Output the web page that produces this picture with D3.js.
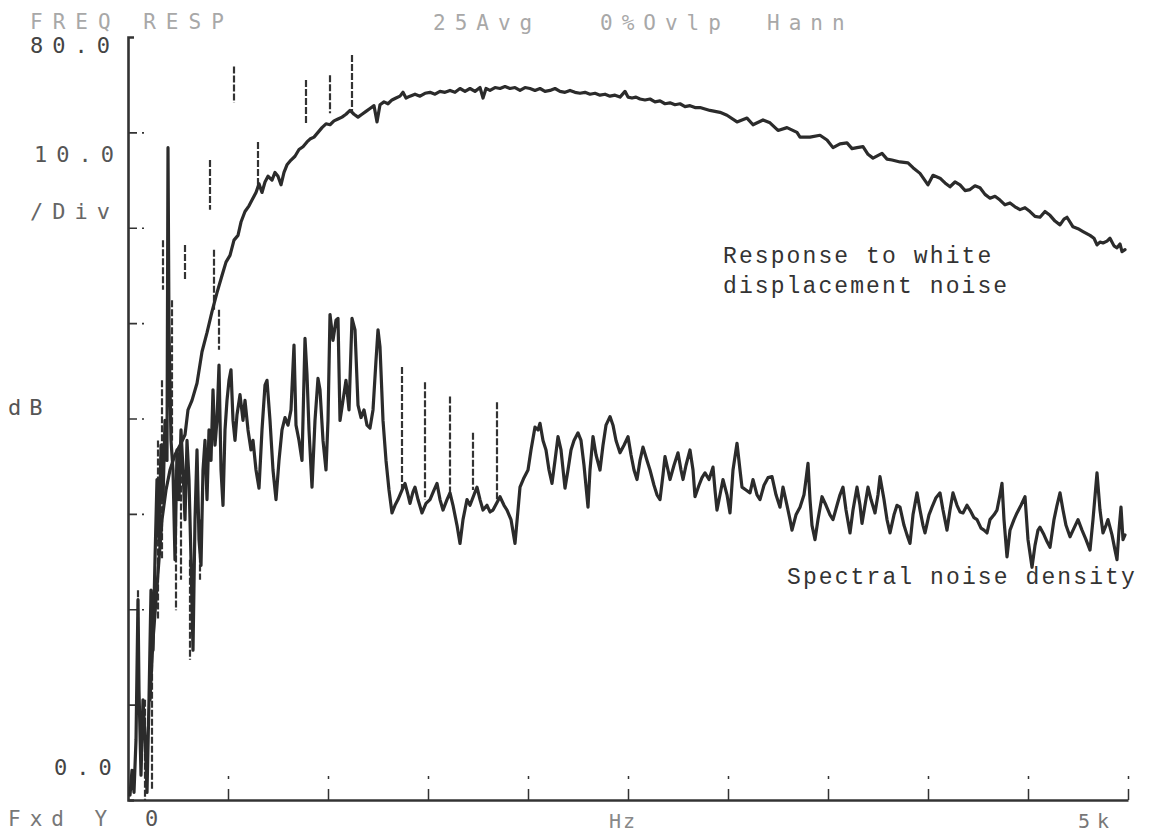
<!DOCTYPE html>
<html>
<head>
<meta charset="utf-8">
<script src="https://cdn.jsdelivr.net/npm/d3@7"></script>
<style>
  body { margin: 0; background: #fff; }
  svg { display: block; }
  .lcd { font-family: "DejaVu Sans Mono", monospace; }
  .note { font-family: "Liberation Mono", monospace; font-size: 23px; letter-spacing: 2.1px; fill: #333; }
  .trace { fill: none; stroke: #2b2b2b; stroke-linejoin: round; stroke-linecap: round; }
  .spike { stroke: #333; stroke-width: 2.2; stroke-dasharray: 7,2; }
  .axis path, .axis line { stroke: #333; }
</style>
</head>
<body>
<svg></svg>
<script>
// analyzer header / readouts
const headerLabels = ["FREQ RESP", "25Avg", "0%Ovlp", "Hann"]
const yTopLabel = "80.0"
const yScaleLabel = ["10.0", "/Div"]
const yUnit = "dB"
const yBottomLabel = "0.0"
const xStartLabel = "0"
const xUnit = "Hz"
const xEndLabel = "5k"
const xTickHz = [500, 1000, 1500, 2000, 2500, 3000, 3500, 4000, 4500, 5000]
const yTickDb = [10, 20, 30, 40, 50, 60, 70]

// [Hz, dB]
const responseTrace = [
  [110,10.5],[125,16.8],[140,21.0],[155,25.2],[170,29.4],[190,32.5],[210,34.6],[235,36.2],[260,37.2],[285,38.3],
  [300,40.9],[320,41.9],[345,43.7],[370,47.0],[395,49.0],[420,51.2],[445,53.2],[470,55.0],[490,56.4],[510,57.1],
  [530,58.7],[550,59.2],[565,60.6],[585,61.7],[605,62.3],[620,62.9],[640,63.7],[655,64.6],[670,63.7],[685,64.8],
  [700,65.4],[720,65.0],[735,65.8],[750,65.4],[765,64.5],[780,65.8],[795,66.6],[815,67.1],[835,67.5],[855,68.2],
  [875,68.5],[895,69.0],[910,69.3],[930,69.5],[950,70.0],[970,70.5],[990,70.9],[1010,70.8],[1030,71.2],[1050,71.4],
  [1070,71.6],[1090,71.9],[1110,72.3],[1130,71.9],[1150,71.6],[1170,71.9],[1190,72.2],[1210,72.5],[1230,72.8],[1245,71.1],
  [1260,72.9],[1280,73.2],[1300,73.0],[1320,73.4],[1340,73.6],[1360,73.8],[1375,74.2],[1390,73.6],[1410,73.8],[1435,74.0],
  [1460,73.8],[1485,74.1],[1510,74.2],[1535,74.0],[1560,74.3],[1585,74.2],[1610,74.4],[1635,74.2],[1660,74.6],[1685,74.3],
  [1710,74.6],[1735,74.3],[1760,74.7],[1775,73.6],[1790,74.6],[1810,74.4],[1835,74.7],[1860,74.6],[1885,74.8],[1910,74.6],
  [1935,74.7],[1960,74.4],[1985,74.7],[2010,74.6],[2035,74.4],[2060,74.6],[2085,74.3],[2110,74.4],[2135,74.6],[2160,74.3],
  [2185,74.2],[2210,74.4],[2235,74.2],[2260,74.1],[2285,74.2],[2310,74.0],[2335,74.1],[2360,73.9],[2385,74.0],[2410,73.8],
  [2435,73.9],[2460,73.7],[2485,74.3],[2500,73.7],[2520,73.6],[2540,73.7],[2560,73.5],[2585,73.4],[2610,73.5],[2635,73.2],
  [2660,73.3],[2685,73.0],[2710,73.1],[2735,72.9],[2760,73.0],[2785,72.7],[2810,72.8],[2835,72.6],[2860,72.6],[2910,72.3],
  [2960,72.1],[2995,71.8],[3045,71.1],[3095,71.5],[3125,70.8],[3175,71.3],[3210,71.0],[3250,70.2],[3295,70.5],[3345,70.0],
  [3360,69.5],[3410,69.5],[3460,69.7],[3495,69.2],[3525,68.4],[3560,68.8],[3595,68.9],[3620,68.3],[3645,68.4],[3675,68.5],
  [3700,67.7],[3725,67.3],[3770,67.8],[3795,67.2],[3820,67.1],[3860,66.9],[3900,66.8],[3925,66.3],[3960,65.7],[4000,64.5],
  [4025,65.5],[4060,65.2],[4085,64.7],[4110,64.3],[4135,64.8],[4160,64.5],[4185,63.9],[4210,64.0],[4235,64.4],[4260,64.2],
  [4285,63.5],[4310,63.1],[4335,63.3],[4360,62.9],[4385,62.4],[4410,62.6],[4435,62.2],[4460,61.9],[4485,62.1],[4510,61.7],
  [4535,61.2],[4560,61.1],[4585,61.7],[4610,61.3],[4635,60.7],[4660,60.3],[4680,60.9],[4695,61.1],[4725,60.1],[4750,59.9],
  [4775,59.6],[4810,59.2],[4830,58.9],[4845,58.2],[4860,58.5],[4875,58.4],[4895,58.6],[4910,58.9],[4930,58.1],[4945,57.9],
  [4960,58.3],[4970,57.5],[4985,57.7]
]

const noiseTrace = [
  [10,0.5],[20,3.1],[30,0.8],[40,6.3],[50,21.0],[55,11.5],[65,2.6],[75,10.5],[85,6.8],[95,0.8],
  [105,10.5],[115,22.0],[125,15.7],[135,25.2],[145,33.6],[155,27.3],[165,37.2],[175,31.5],[185,39.8],[195,35.6],
  [200,68.4],[205,49.3],[215,37.7],[225,34.6],[235,25.2],[245,36.7],[255,31.5],[265,38.8],[275,34.6],[285,29.4],
  [295,37.7],[305,33.6],[315,25.2],[325,15.7],[335,29.4],[345,36.7],[355,27.3],[365,24.6],[375,34.6],[385,37.7],
  [395,31.5],[405,38.8],[415,35.6],[425,43.0],[435,37.2],[445,39.8],[455,45.6],[465,34.6],[475,30.9],[485,38.8],
  [495,41.9],[505,44.0],[515,45.1],[525,39.8],[535,37.7],[545,40.4],[560,42.5],[575,39.8],[585,41.9],[600,38.8],
  [615,36.7],[625,37.7],[640,34.6],[655,32.7],[670,38.8],[685,43.5],[695,44.0],[710,39.8],[725,34.6],[740,31.5],
  [755,35.6],[770,38.8],[785,40.1],[800,39.3],[815,40.9],[830,47.7],[840,39.3],[855,37.7],[870,35.6],[885,48.4],
  [895,44.6],[905,38.8],[920,32.8],[935,39.8],[950,44.2],[960,43.0],[975,37.7],[990,34.6],[1000,39.8],[1010,50.9],
  [1025,48.2],[1040,50.3],[1050,50.5],[1060,39.8],[1075,41.9],[1090,44.0],[1105,40.9],[1120,50.5],[1135,49.3],[1150,41.4],
  [1165,40.1],[1180,40.9],[1195,39.3],[1210,39.0],[1225,40.9],[1240,46.1],[1250,49.3],[1260,47.5],[1275,39.8],[1290,35.6],
  [1305,32.5],[1320,30.1],[1335,30.9],[1350,31.5],[1370,32.5],[1385,33.2],[1400,32.0],[1410,31.1],[1425,32.3],[1435,32.8],
  [1450,31.5],[1470,30.1],[1490,31.1],[1510,31.5],[1530,32.5],[1545,33.2],[1560,31.5],[1575,30.4],[1595,31.5],[1610,32.2],
  [1625,30.9],[1645,28.8],[1660,26.9],[1675,29.4],[1695,31.5],[1710,30.9],[1730,32.0],[1745,32.8],[1760,31.5],[1775,30.4],
  [1795,30.9],[1810,30.2],[1825,30.4],[1845,31.2],[1860,31.8],[1880,30.9],[1895,30.4],[1915,29.4],[1935,26.9],[1950,30.4],
  [1960,32.8],[1980,33.8],[2000,34.6],[2015,36.7],[2035,39.1],[2050,38.8],[2060,39.5],[2075,37.7],[2090,36.7],[2105,34.6],
  [2120,33.2],[2135,35.6],[2150,38.1],[2165,36.7],[2185,32.7],[2200,34.6],[2215,36.7],[2230,37.7],[2250,38.5],[2265,37.7],
  [2280,35.1],[2300,30.7],[2310,34.6],[2325,38.1],[2340,36.2],[2360,34.6],[2375,37.2],[2390,39.3],[2410,40.2],[2425,39.3],
  [2440,37.7],[2460,36.4],[2480,37.2],[2500,38.1],[2515,36.2],[2530,34.6],[2545,33.6],[2560,35.6],[2575,37.0],[2595,35.6],
  [2610,34.6],[2630,33.0],[2645,32.0],[2660,31.5],[2675,34.1],[2685,36.0],[2700,34.6],[2710,33.6],[2730,35.1],[2750,36.4],
  [2765,34.6],[2775,33.6],[2790,35.1],[2810,36.7],[2825,34.6],[2835,31.8],[2855,33.0],[2870,33.8],[2885,34.3],[2905,33.6],
  [2925,34.9],[2935,32.5],[2945,30.4],[2960,32.0],[2975,33.6],[2995,32.0],[3010,30.1],[3025,34.6],[3045,37.4],[3060,34.6],
  [3070,32.8],[3090,32.5],[3110,32.2],[3125,33.6],[3145,32.0],[3160,31.5],[3180,33.0],[3200,33.8],[3220,33.9],[3240,32.0],
  [3260,30.7],[3275,32.8],[3295,30.9],[3310,29.4],[3320,28.3],[3340,29.9],[3360,30.7],[3380,32.0],[3390,33.6],[3400,35.3],
  [3410,31.5],[3420,28.8],[3435,27.3],[3450,29.4],[3470,31.8],[3490,30.9],[3510,29.9],[3525,29.4],[3545,30.9],[3560,32.0],
  [3575,32.8],[3590,30.4],[3610,28.0],[3625,30.4],[3645,32.8],[3660,30.9],[3670,29.0],[3685,30.9],[3700,32.8],[3715,31.5],
  [3735,30.1],[3750,32.0],[3760,33.9],[3780,31.5],[3795,29.4],[3810,28.0],[3830,29.9],[3845,30.9],[3860,30.7],[3880,28.8],
  [3895,27.8],[3910,26.9],[3925,29.9],[3945,32.2],[3960,30.4],[3975,28.8],[3985,28.0],[4005,29.9],[4020,30.7],[4040,31.7],
  [4060,32.2],[4075,30.4],[4095,28.3],[4110,30.4],[4125,32.2],[4145,30.9],[4160,30.2],[4175,30.1],[4195,30.9],[4210,30.4],
  [4230,29.6],[4245,29.4],[4265,28.5],[4280,28.3],[4295,28.0],[4310,29.4],[4330,29.9],[4345,30.4],[4360,32.0],[4370,33.2],
  [4380,29.4],[4395,25.5],[4410,28.3],[4430,29.4],[4445,30.1],[4465,30.9],[4485,31.8],[4500,27.3],[4520,24.4],[4535,26.7],
  [4550,28.3],[4560,28.6],[4580,27.8],[4595,27.1],[4610,26.5],[4630,29.4],[4645,30.9],[4660,32.2],[4675,30.4],[4690,28.8],
  [4710,27.6],[4730,28.5],[4750,29.4],[4770,28.3],[4790,27.3],[4810,26.2],[4825,29.4],[4845,34.3],[4860,30.4],[4875,28.0],
  [4890,28.8],[4900,29.4],[4920,27.8],[4935,26.2],[4945,25.2],[4955,28.3],[4965,30.7],[4975,27.3],[4985,27.8]
]

// dashed harmonic spikes: Hz, top dB, base dB
const spikeHz     = [50, 85, 120, 150, 170, 175, 220, 240, 265, 285, 310, 360, 410, 430, 455,
                     530, 650, 890, 1010, 1120, 1370, 1485, 1610, 1725, 1845]
const spikeTopDb  = [22.0, 10.5, 18.9, 37.7, 44.0, 58.7, 52.4, 29.4, 37.7, 58.2, 25.2, 29.4, 67.1, 57.7, 51.4,
                     76.9, 69.0, 75.5, 76.0, 78.1, 45.4, 43.8, 42.3, 38.5, 41.7]
const spikeBaseDb = [10.5, 0.0, 1.0, 18.9, 25.2, 53.5, 37.7, 19.9, 23.1, 54.5, 14.7, 23.1, 61.9, 51.4, 47.2,
                     73.1, 64.5, 70.8, 72.0, 72.1, 32.5, 31.5, 32.0, 32.5, 31.5]

const notes = [
  { lines: ["Response to white", "displacement noise"], x: 723, y: 263 },
  { lines: ["Spectral noise density"], x: 787, y: 584 }
]

const width = 1149
const height = 834

const svg = d3.select("svg")
  .attr("width", width)
  .attr("height", height)

const xScale = d3.scaleLinear()
  .domain([0, 5000])
  .range([128, 1128])

const yScale = d3.scaleLinear()
  .domain([0, 80])
  .range([800, 37])

// axes
svg.append("g")
  .attr("class", "axis")
  .attr("transform", "translate(128, 0)")
  .call(d3.axisLeft(yScale).tickValues(yTickDb).tickSize(-20).tickSizeOuter(-6).tickFormat(""))
  .call(g => g.select(".domain").attr("stroke-width", 2.6))
  .call(g => g.selectAll(".tick line").attr("stroke-width", 1.6).attr("stroke-dasharray", "9,5,2,4"))

svg.append("g")
  .attr("class", "axis")
  .attr("transform", "translate(0, 800)")
  .call(d3.axisBottom(xScale).tickValues(xTickHz).tickSize(-24).tickSizeOuter(0).tickFormat(""))
  .call(g => g.select(".domain").attr("stroke-width", 2.4))
  .call(g => g.selectAll(".tick line").attr("stroke-width", 1.5).attr("stroke-dasharray", "11,10,3,30"))

const lineGenerator = d3.line()
  .x(d => xScale(d[0]))
  .y(d => yScale(d[1]))

svg.selectAll("line.spike")
  .data(spikeHz)
  .enter()
  .append("line")
  .attr("class", "spike")
  .attr("x1", d => xScale(d))
  .attr("x2", d => xScale(d))
  .attr("y1", (d, i) => yScale(spikeTopDb[i]))
  .attr("y2", (d, i) => yScale(spikeBaseDb[i]))

svg.append("path")
  .datum(noiseTrace)
  .attr("class", "trace")
  .attr("stroke-width", 3.2)
  .attr("d", lineGenerator)

svg.append("path")
  .datum(responseTrace)
  .attr("class", "trace")
  .attr("stroke-width", 3.2)
  .attr("d", lineGenerator)

// readouts
const lcd = (txt, x, y, fill, size, spacing) => svg.append("text")
  .attr("class", "lcd")
  .attr("x", x)
  .attr("y", y)
  .attr("fill", fill)
  .style("font-size", size + "px")
  .style("letter-spacing", spacing + "px")
  .text(txt)

lcd(headerLabels[0], 30, 29, "#a8a8a8", 21, 10)
lcd(headerLabels[1], 433, 30, "#a8a8a8", 21, 9)
lcd(headerLabels[2], 600, 30, "#a8a8a8", 21, 9)
lcd(headerLabels[3], 767, 30, "#a8a8a8", 21, 9)

lcd(yTopLabel, 30, 53, "#444", 22, 9)
lcd(yScaleLabel[0], 34, 162, "#555", 22, 9)
lcd(yScaleLabel[1], 30, 219, "#666", 22, 9)
lcd(yUnit, 8, 415, "#555", 22, 8)
lcd(yBottomLabel, 54, 775, "#444", 22, 9)
lcd("Fxd Y", 8, 826, "#777", 21, 9)
lcd(xStartLabel, xScale(0) + 17, 826, "#555", 22, 0)
lcd(xUnit, 609, 828, "#888", 20, 2)
lcd(xEndLabel, xScale(5000) - 50, 828, "#777", 20, 7)

notes.forEach(n => {
  const t = svg.append("text").attr("class", "note").attr("x", n.x).attr("y", n.y)
  n.lines.forEach((line, i) => {
    t.append("tspan").attr("x", n.x).attr("dy", i === 0 ? 0 : 30).text(line)
  })
})
</script>
</body>
</html>
